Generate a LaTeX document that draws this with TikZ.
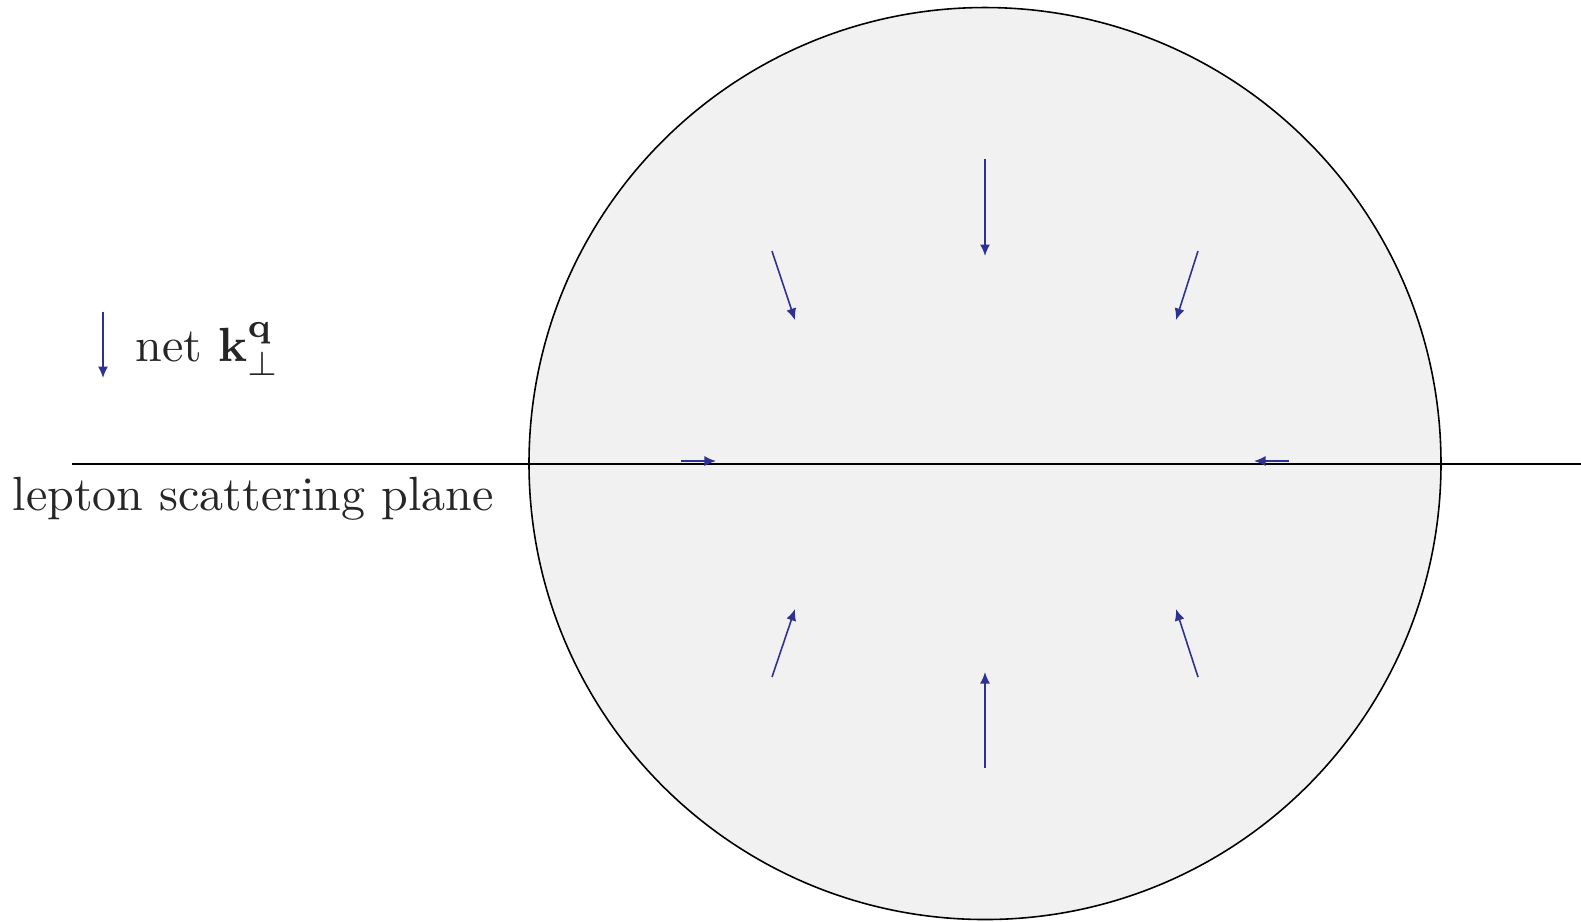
\documentclass[tikz,border=0pt]{standalone}
\usetikzlibrary{arrows.meta}
\definecolor{arrblue}{RGB}{46,49,146}
\definecolor{discgray}{RGB}{241,241,241}
\begin{document}
\begin{tikzpicture}[x=0.2083pt,y=-0.2083pt,
  kvec/.style={draw=arrblue,line width=0.33pt,-{Latex[length=2.4pt,width=2.1pt]}},
  plane/.style={draw=black,line width=0.33pt},
  lbl/.style={inner sep=0pt,anchor=base west,text=black!85}]
\useasboundingbox (0,0) rectangle (1581,921);
\coordinate (c) at (985,463.5);
\fill[discgray] (c) circle (456);
\draw[line width=0.33pt] (c) circle (456);
\coordinate (pl) at (72,464);
\coordinate (pr) at (1581,464);
\draw[plane] (pl) -- (pr);
% arrows
\coordinate (t1) at (985,159); \coordinate (h1) at (985,256);
\coordinate (t2) at (985,768); \coordinate (h2) at (985,672);
\coordinate (t3) at (772,251); \coordinate (h3) at (795,320);
\coordinate (t4) at (1198,251); \coordinate (h4) at (1176,320);
\coordinate (t5) at (772,677); \coordinate (h5) at (795,609);
\coordinate (t6) at (1198,677); \coordinate (h6) at (1176,609);
\coordinate (t7) at (681,461); \coordinate (h7) at (716,461);
\coordinate (t8) at (1289,461); \coordinate (h8) at (1254,461);
\foreach \i in {1,...,8} \draw[kvec] (t\i) -- (h\i);
% legend
\coordinate (lt) at (103,312); \coordinate (lh) at (103,378);
\draw[kvec] (lt) -- (lh);
\node[lbl] (net) at (135,361) {net $\mathbf{k}_\perp^{\mathbf{q}}$};
\node[lbl] (lep) at (12,510) {lepton scattering plane};
\end{tikzpicture}
\end{document}
